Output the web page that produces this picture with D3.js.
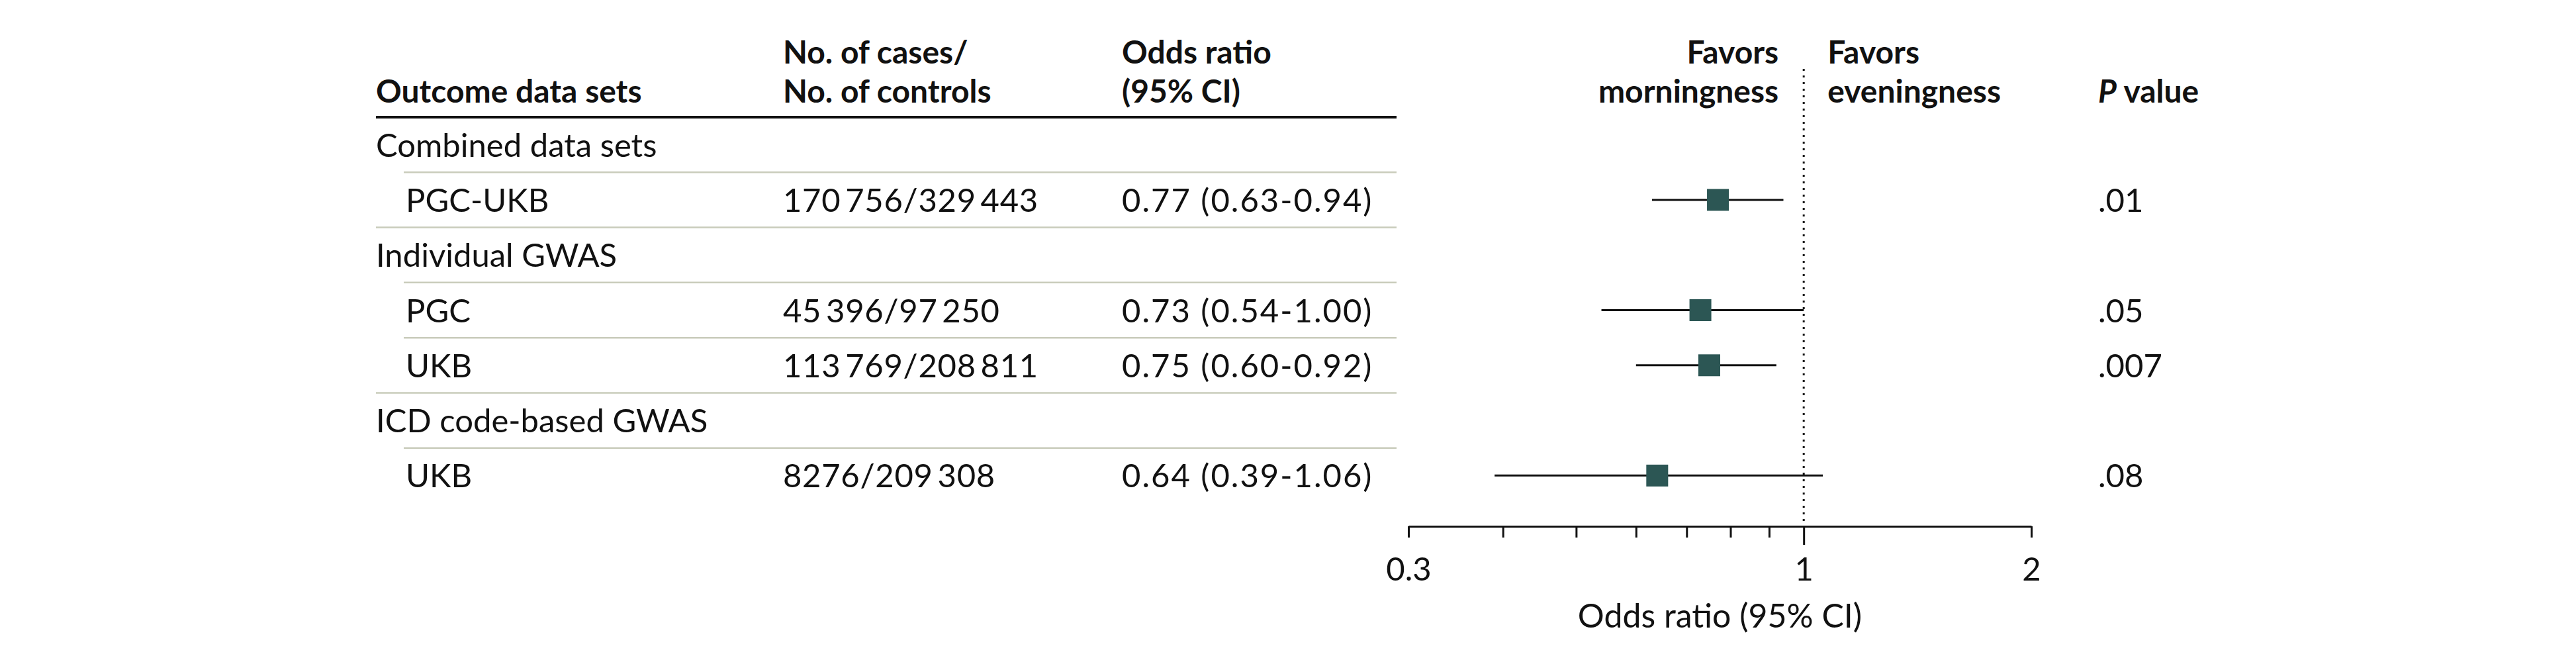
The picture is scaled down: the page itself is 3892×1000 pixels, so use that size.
<!DOCTYPE html>
<html>
<head>
<meta charset="utf-8">
<script src="https://cdn.jsdelivr.net/npm/d3@7"></script>
<style>
  html, body { margin: 0; padding: 0; background: #ffffff; }
  svg { display: block; }
  text { font-family: Lato, "Open Sans", sans-serif; fill: #111; }
</style>
</head>
<body>
<svg id="chart" width="3892" height="1000"></svg>
<script>
// ---------- data ----------
const rowLabels = ["Combined data sets", "PGC-UKB", "Individual GWAS", "PGC", "UKB", "ICD code-based GWAS", "UKB"];
const rowIsGroup = [true, false, true, false, false, true, false];
const casesControls = ["", "170\u2009756/329\u2009443", "", "45\u2009396/97\u2009250", "113\u2009769/208\u2009811", "", "8276/209\u2009308"];
const oddsRatios = [null, 0.77, null, 0.73, 0.75, null, 0.64];
const ciLower = [null, 0.63, null, 0.54, 0.60, null, 0.39];
const ciUpper = [null, 0.94, null, 1.00, 0.92, null, 1.06];
const pValues = ["", ".01", "", ".05", ".007", "", ".08"];
const tickValues = [0.3, 0.4, 0.5, 0.6, 0.7, 0.8, 0.9, 1, 2];
const tickLabels = { 0.3: "0.3", 1: "1", 2: "2" };
const axisTitle = "Odds ratio (95% CI)";

// ---------- layout ----------
const FS = 49, FSB = 48;
const svg = d3.select("#chart");
const colGroupX = 568, colItemX = 613, colCasesX = 1183, colOrX = 1695, colPX = 3170;
const tableRight = 2110;
const headerBase2 = 155, headerBase1 = 96;

const y = d3.scaleBand().domain(d3.range(rowLabels.length)).range([177, 760]);
const x = d3.scaleLog().domain([0.3, 2]).range([2128, 3069]);
const axisY = 795;
const refTop = 104;
const markColor = "#2c5654";
const baseOff = 18;

// header texts
const hdr = svg.append("g").attr("font-weight", 700).attr("font-size", FSB);
hdr.append("text").attr("x", colGroupX).attr("y", headerBase2).text("Outcome data sets");
hdr.append("text").attr("x", colCasesX).attr("y", headerBase1).text("No. of cases/");
hdr.append("text").attr("x", colCasesX).attr("y", headerBase2).text("No. of controls");
hdr.append("text").attr("x", colOrX).attr("y", headerBase1).text("Odds ratio");
hdr.append("text").attr("x", colOrX).attr("y", headerBase2).text("(95% CI)");
hdr.append("text").attr("x", x(1) - 38).attr("y", headerBase1).attr("text-anchor", "end").text("Favors");
hdr.append("text").attr("x", x(1) - 38).attr("y", headerBase2).attr("text-anchor", "end").text("morningness");
hdr.append("text").attr("x", x(1) + 36).attr("y", headerBase1).text("Favors");
hdr.append("text").attr("x", x(1) + 36).attr("y", headerBase2).text("eveningness");
const pv = hdr.append("text").attr("x", colPX).attr("y", headerBase2);
pv.append("tspan").attr("font-style", "italic").text("P");
pv.append("tspan").text(" value");

// thick header rule
svg.append("line")
  .attr("x1", colGroupX).attr("x2", tableRight)
  .attr("y1", y.range()[0]).attr("y2", y.range()[0])
  .attr("stroke", "#111").attr("stroke-width", 4);

// row separators
d3.range(rowLabels.length - 1).forEach(i => {
  const yy = y(i) + y.bandwidth();
  svg.append("line")
    .attr("x1", rowIsGroup[i + 1] ? colGroupX : colItemX - 3).attr("x2", tableRight)
    .attr("y1", yy).attr("y2", yy)
    .attr("stroke", "#c9ccbb").attr("stroke-width", 2.5);
});

// row texts
const rows = svg.append("g").attr("font-size", FS);
rowLabels.forEach((lab, i) => {
  const cy = y(i) + y.bandwidth() / 2;
  rows.append("text").attr("x", rowIsGroup[i] ? colGroupX : colItemX).attr("y", cy + baseOff).text(lab);
  if (casesControls[i]) rows.append("text").attr("x", colCasesX).attr("y", cy + baseOff)
    .attr("letter-spacing", 0.7).text(casesControls[i]);
  if (oddsRatios[i] != null) {
    rows.append("text").attr("x", colOrX).attr("y", cy + baseOff).attr("letter-spacing", 2)
      .text(`${oddsRatios[i].toFixed(2)} (${ciLower[i].toFixed(2)}-${ciUpper[i].toFixed(2)})`);
  }
  if (pValues[i]) rows.append("text").attr("x", colPX).attr("y", cy + baseOff).text(pValues[i]);
});

// reference line (dotted)
svg.append("line")
  .attr("x1", x(1)).attr("x2", x(1)).attr("y1", refTop).attr("y2", axisY)
  .attr("stroke", "#111").attr("stroke-width", 3).attr("stroke-dasharray", "3 7");

// axis
const axis = d3.axisBottom(x)
  .tickValues(tickValues)
  .tickSize(17).tickSizeOuter(0).tickPadding(30)
  .tickFormat(d => tickLabels[d] || "");
const ag = svg.append("g").attr("transform", `translate(0,${axisY})`).call(axis);
ag.select(".domain").attr("stroke", "#111").attr("stroke-width", 3);
ag.selectAll(".tick line").attr("stroke", "#111").attr("stroke-width", 3)
  .attr("y2", d => d === 1 ? 28 : 17);
ag.selectAll(".tick text").attr("font-size", FS).attr("font-family", "Lato, 'Open Sans', sans-serif").attr("fill", "#111");

svg.append("text").attr("x", (x.range()[0] + x.range()[1]) / 2).attr("y", 948)
  .attr("text-anchor", "middle").attr("font-size", 50).text(axisTitle);

// CI lines and markers
const idx = d3.range(rowLabels.length).filter(i => oddsRatios[i] != null);
svg.append("g").selectAll("line").data(idx).join("line")
  .attr("x1", i => x(ciLower[i])).attr("x2", i => x(ciUpper[i]))
  .attr("y1", i => y(i) + y.bandwidth() / 2).attr("y2", i => y(i) + y.bandwidth() / 2)
  .attr("stroke", "#111").attr("stroke-width", 3);
const sq = 33;
svg.append("g").selectAll("rect").data(idx).join("rect")
  .attr("x", i => x(oddsRatios[i]) - sq / 2).attr("y", i => y(i) + y.bandwidth() / 2 - sq / 2)
  .attr("width", sq).attr("height", sq)
  .attr("fill", markColor);
</script>
</body>
</html>
